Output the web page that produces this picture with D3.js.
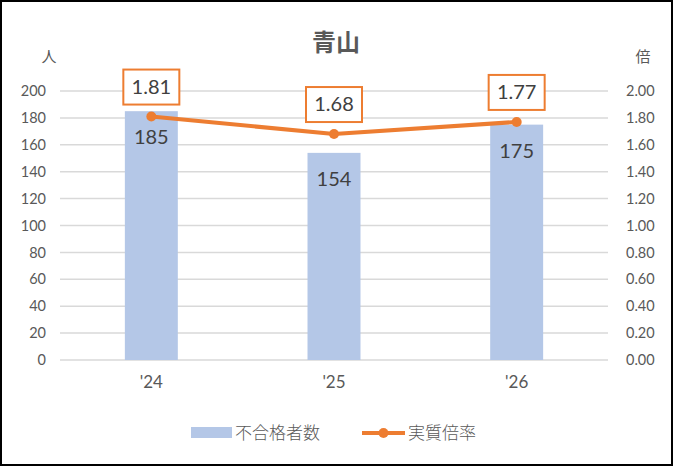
<!DOCTYPE html>
<html><head><meta charset="utf-8">
<script src="https://cdn.jsdelivr.net/npm/d3@7"></script>
<style>
html,body{margin:0;padding:0;background:#fff;}
svg{display:block;}
</style></head>
<body>
<svg id="c" width="673" height="466"></svg>
<script>
const categories = ["'24", "'25", "'26"];
const failures = [185, 154, 175];
const ratios = [1.81, 1.68, 1.77];
const leftTicks = [0, 20, 40, 60, 80, 100, 120, 140, 160, 180, 200];
const rightTicks = [0, 0.2, 0.4, 0.6, 0.8, 1.0, 1.2, 1.4, 1.6, 1.8, 2.0];
const title = "青山";
const seriesNames = ["不合格者数", "実質倍率"];

const W = 673, H = 466;
const m = {left: 60, right: 65, top: 91, bottom: 106};
const svg = d3.select("#c");
const numFont = "Lato, 'Noto Sans CJK JP', sans-serif";
const jpFont = "'Noto Sans CJK JP', sans-serif";
const txt = "#595959";

svg.append("rect").attr("x",1).attr("y",1).attr("width",W-2).attr("height",H-2)
  .attr("fill","#fff").attr("stroke","#000").attr("stroke-width",2);

const x = d3.scaleBand().domain(categories).range([m.left, W - m.right]).paddingInner(0.71).paddingOuter(0.355);
const y = d3.scaleLinear().domain([0, 200]).range([H - m.bottom, m.top]);
const y2 = d3.scaleLinear().domain([0, 2]).range([H - m.bottom, m.top]);

// gridlines
svg.append("g").selectAll("line").data(leftTicks).join("line")
  .attr("x1", m.left).attr("x2", W - m.right)
  .attr("y1", d => y(d)).attr("y2", d => y(d))
  .attr("stroke", "#d9d9d9").attr("stroke-width", 1.5);

// left axis
const la = svg.append("g").attr("transform", `translate(${m.left - 14},0)`)
  .call(d3.axisLeft(y).tickValues(leftTicks).tickSize(0).tickPadding(0));
la.select(".domain").remove();
la.selectAll("text").attr("font-family", numFont).attr("font-size", 14.5).attr("fill", txt);

// right axis
const ra = svg.append("g").attr("transform", `translate(${W - m.right + 18},0)`)
  .call(d3.axisRight(y2).tickValues(rightTicks).tickSize(0).tickPadding(0).tickFormat(d3.format(".2f")));
ra.select(".domain").remove();
ra.selectAll("text").attr("font-family", numFont).attr("font-size", 14.5).attr("fill", txt);

// x axis
const xa = svg.append("g").attr("transform", `translate(0,${H - m.bottom + 13})`)
  .call(d3.axisBottom(x).tickSize(0).tickPadding(0));
xa.select(".domain").remove();
xa.selectAll("text").attr("font-family", numFont).attr("font-size", 17).attr("fill", txt).attr("dy", "0.9em");

// unit labels
svg.append("text").attr("x", 49).attr("y", 62).attr("text-anchor", "middle")
  .attr("font-family", jpFont).attr("font-size", 15).attr("fill", txt).text("人");
svg.append("text").attr("x", 643).attr("y", 62).attr("text-anchor", "middle")
  .attr("font-family", jpFont).attr("font-size", 15).attr("fill", txt).text("倍");

// title
svg.append("text").attr("x", 336).attr("y", 51).attr("text-anchor", "middle")
  .attr("font-family", jpFont).attr("font-size", 24).attr("font-weight", "bold").attr("fill", txt).text(title);

// bars
svg.append("g").selectAll("rect").data(failures).join("rect")
  .attr("x", (d, i) => x(categories[i])).attr("width", x.bandwidth())
  .attr("y", d => y(d)).attr("height", d => y(0) - y(d))
  .attr("fill", "#b4c7e7");

// bar labels
svg.append("g").selectAll("text").data(failures).join("text")
  .attr("x", (d, i) => x(categories[i]) + x.bandwidth() / 2)
  .attr("y", d => y(d) + 33)
  .attr("text-anchor", "middle").attr("font-family", numFont).attr("font-size", 20).attr("fill", "#404040")
  .text(d => d);

// line
const cx = i => x(categories[i]) + x.bandwidth() / 2;
const line = d3.line().x((d, i) => cx(i)).y(d => y2(d));
svg.append("path").datum(ratios).attr("d", line).attr("fill", "none")
  .attr("stroke", "#ed7d31").attr("stroke-width", 4).attr("stroke-linejoin", "round");
svg.append("g").selectAll("circle").data(ratios).join("circle")
  .attr("cx", (d, i) => cx(i)).attr("cy", d => y2(d)).attr("r", 5).attr("fill", "#ed7d31");

// line labels
const lg = svg.append("g").selectAll("g").data(ratios).join("g")
  .attr("transform", (d, i) => `translate(${cx(i)},${y2(d) - 30})`);
lg.append("rect").attr("x", -28).attr("y", -17).attr("width", 56).attr("height", 35)
  .attr("fill", "#fff").attr("stroke", "#ed7d31").attr("stroke-width", 2);
lg.append("text").attr("text-anchor", "middle").attr("dy", "0.36em")
  .attr("font-family", numFont).attr("font-size", 20).attr("fill", "#404040")
  .text(d => d3.format(".2f")(d));

// legend
const leg = svg.append("g");
leg.append("rect").attr("x", 191).attr("y", 427).attr("width", 41).attr("height", 11).attr("fill", "#b4c7e7");
leg.append("text").attr("x", 235).attr("y", 439).attr("font-family", jpFont).attr("font-size", 17).attr("font-weight", 300).attr("fill", txt).text(seriesNames[0]);
leg.append("line").attr("x1", 362).attr("x2", 405).attr("y1", 433).attr("y2", 433).attr("stroke", "#ed7d31").attr("stroke-width", 4);
leg.append("circle").attr("cx", 383.5).attr("cy", 433).attr("r", 5).attr("fill", "#ed7d31");
leg.append("text").attr("x", 408).attr("y", 439).attr("font-family", jpFont).attr("font-size", 17).attr("font-weight", 300).attr("fill", txt).text(seriesNames[1]);
</script>
</body></html>
